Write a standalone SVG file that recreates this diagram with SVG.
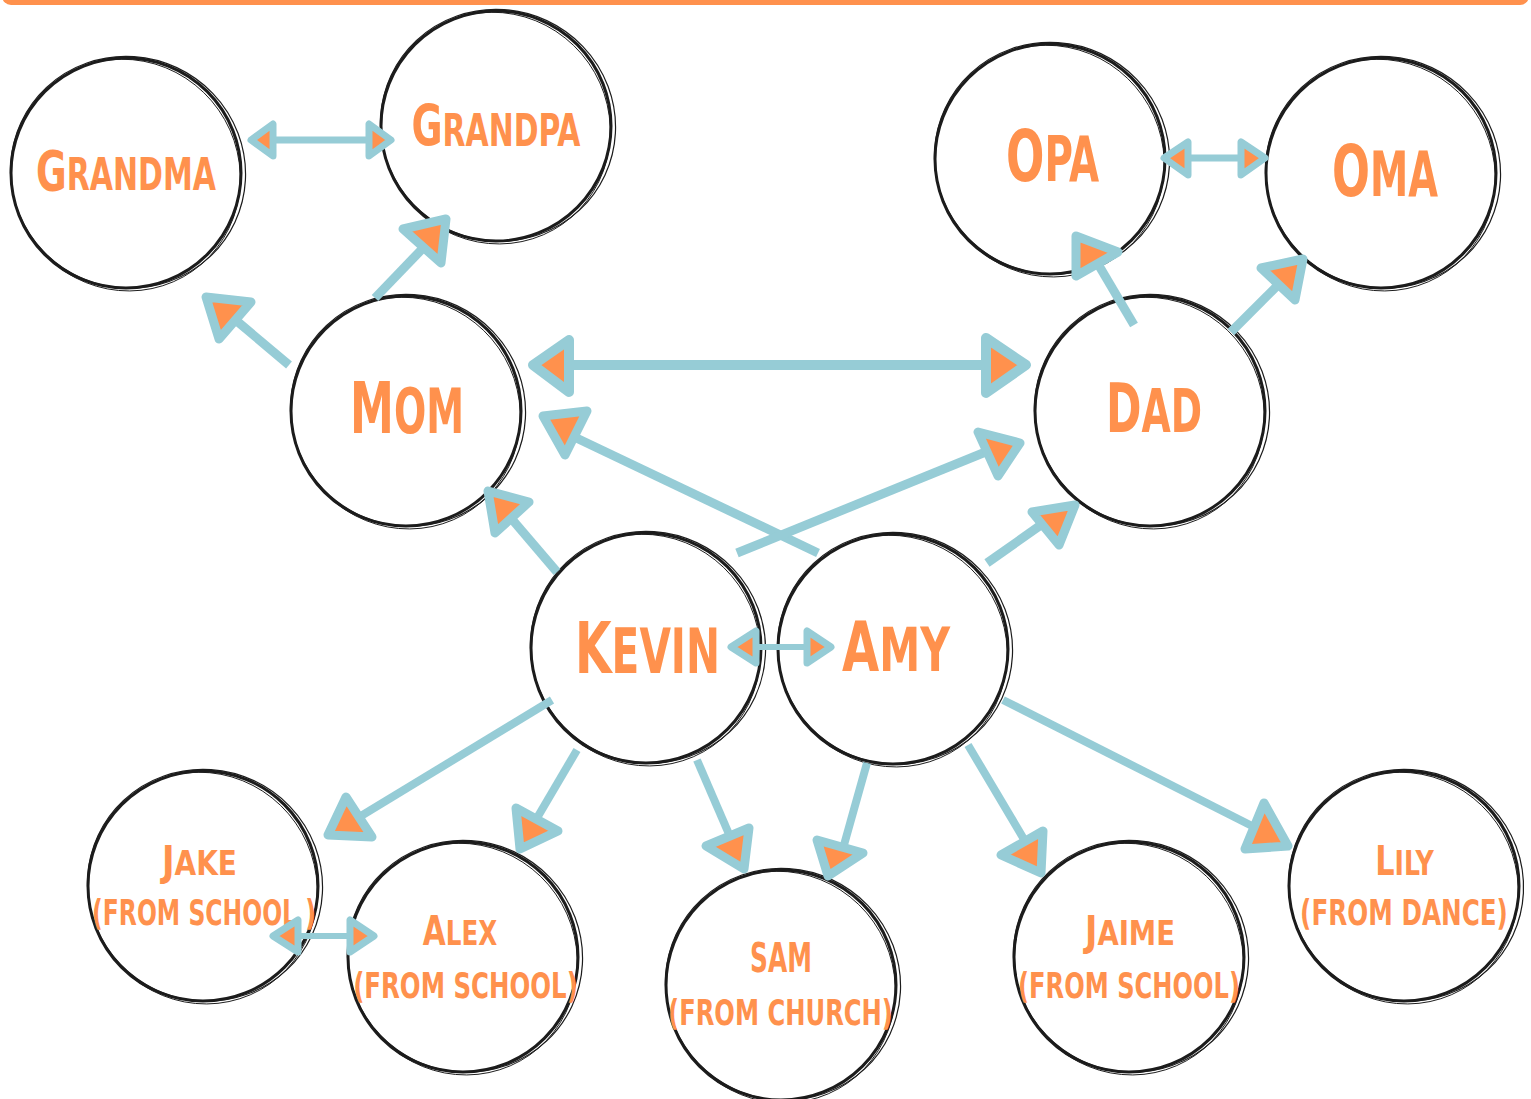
<svg xmlns="http://www.w3.org/2000/svg" width="1531" height="1099" viewBox="0 0 1531 1099">
<style>
.r1{fill:none;stroke:#1c1c1c;stroke-width:3}
.r2{fill:none;stroke:#1c1c1c;stroke-width:1.2}
.r3{fill:none;stroke:#1c1c1c;stroke-width:0.9}
.t{font-family:"DejaVu Sans Condensed","DejaVu Sans",sans-serif;font-stretch:condensed;font-weight:bold;fill:#FF914D;text-anchor:middle}
.ln{stroke:#96CCD6;stroke-linecap:butt;fill:none}
.hd{fill:#FF914D;stroke:#96CCD6;stroke-linejoin:round}
</style>
<defs>
<g id="ring">
<circle cx="0" cy="0" r="115" class="r1"/>
<ellipse cx="1.5" cy="-1.5" rx="118" ry="115.5" transform="rotate(25)" class="r2"/>
<ellipse cx="-1.5" cy="1.5" rx="113.5" ry="117" transform="rotate(-35)" class="r3"/>
</g>
</defs>
<rect x="2" y="-20" width="1527" height="25" rx="9" fill="#FF914D"/>

<g id="grandma"><use href="#ring" x="126" y="173"/>
<text class="t" transform="translate(126,190) scale(0.757,1)"><tspan font-size="55">G</tspan><tspan font-size="44">RANDMA</tspan></text></g>
<g id="grandpa"><use href="#ring" x="496" y="126"/>
<text class="t" transform="translate(496,146) scale(0.738,1)"><tspan font-size="57">G</tspan><tspan font-size="45">RANDPA</tspan></text></g>
<g id="opa"><use href="#ring" x="1050" y="159"/>
<text class="t" transform="translate(1052.5,181) scale(0.697,1)"><tspan font-size="72">O</tspan><tspan font-size="62">PA</tspan></text></g>
<g id="oma"><use href="#ring" x="1381" y="173"/>
<text class="t" transform="translate(1385,196) scale(0.689,1)"><tspan font-size="72">O</tspan><tspan font-size="62">MA</tspan></text></g>
<g id="mom"><use href="#ring" x="406" y="411"/>
<text class="t" transform="translate(407,433) scale(0.681,1)"><tspan font-size="72">M</tspan><tspan font-size="62">OM</tspan></text></g>
<g id="dad"><use href="#ring" x="1150" y="411"/>
<text class="t" transform="translate(1154,432) scale(0.699,1)"><tspan font-size="68">D</tspan><tspan font-size="60">AD</tspan></text></g>
<g id="kevin"><use href="#ring" x="646" y="648"/>
<text class="t" transform="translate(647.5,673) scale(0.729,1)"><tspan font-size="72">K</tspan><tspan font-size="62">EVIN</tspan></text></g>
<g id="amy"><use href="#ring" x="893" y="649"/>
<text class="t" transform="translate(896,671) scale(0.763,1)"><tspan font-size="70">A</tspan><tspan font-size="60">MY</tspan></text></g>
<g id="jake"><use href="#ring" x="203" y="886"/>
<text class="t" transform="translate(199.5,875) scale(0.914,1)"><tspan font-size="41">J</tspan><tspan font-size="34">AKE</tspan></text>
<text class="t" font-size="35" transform="translate(204,925) scale(0.746,1)">(FROM SCHOOL )</text></g>
<g id="alex"><use href="#ring" x="463" y="957"/>
<text class="t" transform="translate(460,945) scale(0.805,1)"><tspan font-size="41">A</tspan><tspan font-size="34">LEX</tspan></text>
<text class="t" font-size="35" transform="translate(465.5,998) scale(0.777,1)">(FROM SCHOOL)</text></g>
<g id="sam"><use href="#ring" x="781" y="985"/>
<text class="t" font-size="40" transform="translate(781,972) scale(0.692,1)">SAM</text>
<text class="t" font-size="35" transform="translate(780.5,1025) scale(0.769,1)">(FROM CHURCH)</text></g>
<g id="jaime"><use href="#ring" x="1129" y="957"/>
<text class="t" transform="translate(1130,945) scale(0.898,1)"><tspan font-size="41">J</tspan><tspan font-size="34">AIME</tspan></text>
<text class="t" font-size="35" transform="translate(1129,998) scale(0.767,1)">(FROM SCHOOL)</text></g>
<g id="lily"><use href="#ring" x="1404" y="886"/>
<text class="t" transform="translate(1404.5,875) scale(0.824,1)"><tspan font-size="41">L</tspan><tspan font-size="34">ILY</tspan></text>
<text class="t" font-size="35" transform="translate(1404,925) scale(0.784,1)">(FROM DANCE)</text></g>

<g id="connectors">
<line class="ln" stroke-width="7" x1="270" y1="140" x2="372" y2="140"/>
<polygon class="hd" stroke-width="7" points="251,140 273,124 273,156"/>
<polygon class="hd" stroke-width="7" points="391,140 369,124 369,156"/>
<line class="ln" stroke-width="7" x1="1185" y1="158" x2="1244" y2="158"/>
<polygon class="hd" stroke-width="7" points="1164,158 1188,142 1188,175"/>
<polygon class="hd" stroke-width="7" points="1265,158 1241,142 1241,175"/>
<line class="ln" stroke-width="9" x1="375" y1="298" x2="425" y2="246"/>
<polygon class="hd" stroke-width="9" points="403,229 446,219 441,263"/>
<line class="ln" stroke-width="9" x1="289" y1="365" x2="232" y2="317"/>
<polygon class="hd" stroke-width="9" points="206,297 251,302 219,339"/>
<line class="ln" stroke-width="10" x1="565" y1="365" x2="990" y2="365"/>
<polygon class="hd" stroke-width="10" points="533,365 569,340 569,392"/>
<polygon class="hd" stroke-width="10" points="1026,365 986,338 986,393"/>
<line class="ln" stroke-width="9" x1="818" y1="553" x2="568" y2="434"/>
<polygon class="hd" stroke-width="9" points="543,416 587,411 565,455"/>
<line class="ln" stroke-width="9" x1="737" y1="553" x2="988" y2="451"/>
<polygon class="hd" stroke-width="9" points="978,432 1020,443 998,476"/>
<line class="ln" stroke-width="9" x1="557" y1="572" x2="504" y2="510"/>
<polygon class="hd" stroke-width="9" points="488,491 529,502 495,533"/>
<line class="ln" stroke-width="9" x1="987" y1="563" x2="1048" y2="520"/>
<polygon class="hd" stroke-width="9" points="1032,512 1075,505 1059,545"/>
<line class="ln" stroke-width="9" x1="1134" y1="325" x2="1098" y2="264"/>
<polygon class="hd" stroke-width="9" points="1076,236 1118,252 1076,276"/>
<line class="ln" stroke-width="9" x1="1231" y1="332" x2="1285" y2="278"/>
<polygon class="hd" stroke-width="9" points="1261,268 1303,259 1295,300"/>
<line class="ln" stroke-width="6" x1="750" y1="647" x2="812" y2="647"/>
<polygon class="hd" stroke-width="7" points="731,647 756,631 756,663"/>
<polygon class="hd" stroke-width="7" points="831,647 807,631 807,663"/>
<line class="ln" stroke-width="8" x1="552" y1="700" x2="356" y2="819"/>
<polygon class="hd" stroke-width="9" points="346,797 372,837 328,835"/>
<line class="ln" stroke-width="8" x1="577" y1="750" x2="537" y2="818"/>
<polygon class="hd" stroke-width="9" points="516,808 558,831 520,849"/>
<line class="ln" stroke-width="8" x1="697" y1="760" x2="735" y2="848"/>
<polygon class="hd" stroke-width="9" points="706,846 749,828 744,869"/>
<line class="ln" stroke-width="8" x1="867" y1="763" x2="842" y2="852"/>
<polygon class="hd" stroke-width="9" points="817,840 863,853 828,876"/>
<line class="ln" stroke-width="8" x1="968" y1="745" x2="1028" y2="846"/>
<polygon class="hd" stroke-width="9" points="1001,855 1043,831 1041,873"/>
<line class="ln" stroke-width="8" x1="1003" y1="700" x2="1260" y2="830"/>
<polygon class="hd" stroke-width="9" points="1264,803 1288,846 1245,849"/>
<line class="ln" stroke-width="6" x1="292" y1="936" x2="355" y2="936"/>
<polygon class="hd" stroke-width="7" points="273,936 298,920 298,952"/>
<polygon class="hd" stroke-width="7" points="374,936 350,920 350,952"/>
</g>
</svg>
